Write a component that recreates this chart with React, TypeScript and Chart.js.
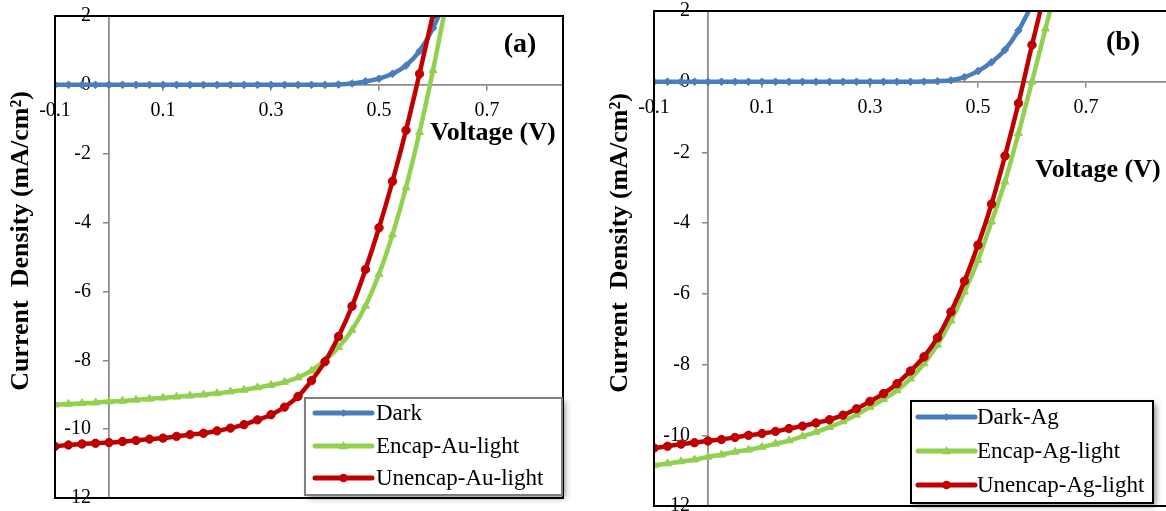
import React, { useEffect, useRef } from 'react';
import { Chart, registerables } from 'chart.js';

Chart.register(...registerables);

// ---------- data ----------
const voltage = [
  -0.1, -0.075, -0.05, -0.025, 0, 0.025, 0.05, 0.075, 0.1, 0.125, 0.15, 0.175,
  0.2, 0.225, 0.25, 0.275, 0.3, 0.325, 0.35, 0.375, 0.4, 0.425, 0.45, 0.475,
  0.5, 0.525, 0.55, 0.575, 0.6, 0.625, 0.65,
];

// Panel (a) – Au
const darkAu = [
  0, 0, 0, 0, 0, 0, 0, 0, 0, 0, 0, 0,
  0, 0, 0, 0, 0, 0, 0, 0, 0, 0.01, 0.04, 0.1,
  0.18, 0.32, 0.56, 0.98, 1.65, 2.6, 4.0,
];
const encapAu = [
  -9.29, -9.27, -9.25, -9.23, -9.2, -9.18, -9.15, -9.12, -9.09, -9.06, -9.03, -9.0,
  -8.96, -8.91, -8.86, -8.79, -8.72, -8.63, -8.5, -8.3, -8.0, -7.62, -7.12, -6.42,
  -5.5, -4.35, -2.98, -1.38, 0.42, 2.4, 4.2,
];
const unencapAu = [
  -10.5, -10.46, -10.43, -10.41, -10.39, -10.36, -10.33, -10.29, -10.26, -10.21, -10.16, -10.12,
  -10.05, -9.97, -9.87, -9.73, -9.58, -9.36, -9.05, -8.59, -8.04, -7.31, -6.43, -5.36,
  -4.15, -2.8, -1.32, 0.32, 2.05, 3.8, 5.6,
];

// Panel (b) – Ag
const darkAg = [
  0, 0, 0, 0, 0, 0, 0, 0, 0, 0, 0, 0,
  0, 0, 0, 0, 0, 0, 0, 0, 0.005, 0.015, 0.04, 0.13,
  0.3, 0.55, 0.9, 1.45, 2.2, 3.1, 4.2,
];
const encapAg = [
  -10.85, -10.8, -10.74, -10.69, -10.61, -10.55, -10.47, -10.41, -10.33, -10.24, -10.15, -10.03,
  -9.91, -9.77, -9.61, -9.42, -9.2, -8.98, -8.73, -8.4, -7.97, -7.44, -6.76, -5.94,
  -5.05, -3.96, -2.83, -1.46, 0.0, 1.5, 3.0,
];
const unencapAg = [
  -10.36, -10.31, -10.25, -10.21, -10.16, -10.12, -10.06, -10.0, -9.95, -9.89, -9.81, -9.74,
  -9.65, -9.56, -9.43, -9.25, -9.04, -8.82, -8.54, -8.18, -7.78, -7.24, -6.51, -5.64,
  -4.62, -3.46, -2.1, -0.61, 1.04, 2.6, 4.2,
];

const xTickValues = [-0.1, 0.1, 0.3, 0.5, 0.7];
const yMin = -12;
const yMax = 2;
const yTickStep = 2;
const legendAu = ['Dark', 'Encap-Au-light', 'Unencap-Au-light'];
const legendAg = ['Dark-Ag', 'Encap-Ag-light', 'Unencap-Ag-light'];
const panelLabels = ['(a)', '(b)'];
const xTitle = 'Voltage (V)';
const yTitle = 'Current  Density (mA/cm\u00B2)';

// ---------- styles ----------
const SERIF = '"Liberation Serif", "Times New Roman", serif';
const BLUE = '#4a7ebb';
const GREEN = '#92d050';
const RED = '#c00000';
const seriesStyles = [
  { color: BLUE, pointStyle: 'rectRot', radius: 3.8 },
  { color: GREEN, pointStyle: 'triangle', radius: 4.6 },
  { color: RED, pointStyle: 'circle', radius: 4.2 },
];
const PAD_V = 30;

type PanelCfg = {
  left: number;
  width: number;
  chartTop: number;
  chartBottom: number;
  padLeft: number;
  padRight: number;
  xMax: number;
  series: number[][];
  names: string[];
  label: string;
  labelPos: [number, number];
  xTitlePos: [number, number];
  yTitlePos: [number, number];
  legendBox: [number, number, number, number];
  legendRows: number[];
  legendLineX: [number, number];
  legendTextX: number;
  legendBorder: string;
};

const panels: PanelCfg[] = [
  {
    left: 0,
    width: 583,
    chartTop: 16,
    chartBottom: 498,
    padLeft: 55,
    padRight: 20,
    xMax: 0.8407,
    series: [darkAu, encapAu, unencapAu],
    names: legendAu,
    label: panelLabels[0],
    labelPos: [520, 45],
    xTitlePos: [493, 133],
    yTitlePos: [21, 241],
    legendBox: [305, 398, 562, 495],
    legendRows: [413, 446, 478],
    legendLineX: [315, 372],
    legendTextX: 376,
    legendBorder: '#7f7f7f',
  },
  {
    left: 583,
    width: 600,
    chartTop: 11,
    chartBottom: 506,
    padLeft: 71,
    padRight: 13,
    xMax: 0.8556,
    series: [darkAg, encapAg, unencapAg],
    names: legendAg,
    label: panelLabels[1],
    labelPos: [540, 43],
    xTitlePos: [515, 170],
    yTitlePos: [37, 243],
    legendBox: [328, 401, 570, 503],
    legendRows: [417, 451, 485],
    legendLineX: [335, 392],
    legendTextX: 394,
    legendBorder: '#000000',
  },
];

function drawMarker(ctx: CanvasRenderingContext2D, style: string, x: number, y: number, r: number) {
  ctx.beginPath();
  if (style === 'circle') {
    ctx.arc(x, y, r, 0, Math.PI * 2);
  } else if (style === 'triangle') {
    ctx.moveTo(x, y - r * 1.1);
    ctx.lineTo(x + r, y + r * 0.7);
    ctx.lineTo(x - r, y + r * 0.7);
    ctx.closePath();
  } else {
    ctx.moveTo(x, y - r);
    ctx.lineTo(x + r, y);
    ctx.lineTo(x, y + r);
    ctx.lineTo(x - r, y);
    ctx.closePath();
  }
  ctx.fill();
}

function makeDecorPlugin(cfg: PanelCfg, canvasTop: number) {
  return {
    id: 'decor',
    afterDatasetsDraw(chart: any) {
      const { ctx, chartArea } = chart;
      ctx.save();
      ctx.strokeStyle = '#000';
      ctx.lineWidth = 2;
      ctx.strokeRect(chartArea.left, chartArea.top, chartArea.right - chartArea.left, chartArea.bottom - chartArea.top);
      ctx.restore();
    },
    afterDraw(chart: any) {
      const ctx: CanvasRenderingContext2D = chart.ctx;
      ctx.save();
      // work in page coordinates
      ctx.translate(0, -canvasTop);
      ctx.fillStyle = '#000';
      ctx.textAlign = 'center';
      ctx.textBaseline = 'middle';
      ctx.font = `bold 28px ${SERIF}`;
      ctx.fillText(cfg.label, cfg.labelPos[0], cfg.labelPos[1]);
      ctx.font = `bold 26px ${SERIF}`;
      ctx.fillText(xTitle, cfg.xTitlePos[0], cfg.xTitlePos[1]);
      ctx.save();
      ctx.translate(cfg.yTitlePos[0], cfg.yTitlePos[1]);
      ctx.rotate(-Math.PI / 2);
      ctx.font = `bold 26px ${SERIF}`;
      ctx.fillText(yTitle, 0, 0);
      ctx.restore();
      // legend
      const [x0, y0, x1, y1] = cfg.legendBox;
      ctx.save();
      ctx.shadowColor = 'rgba(0,0,0,0.45)';
      ctx.shadowBlur = 6;
      ctx.shadowOffsetX = 3;
      ctx.shadowOffsetY = 3;
      ctx.fillStyle = '#fff';
      ctx.fillRect(x0, y0, x1 - x0, y1 - y0);
      ctx.restore();
      ctx.strokeStyle = cfg.legendBorder;
      ctx.lineWidth = 2;
      ctx.strokeRect(x0, y0, x1 - x0, y1 - y0);
      cfg.names.forEach((name, i) => {
        const st = seriesStyles[i];
        const y = cfg.legendRows[i];
        ctx.strokeStyle = st.color;
        ctx.fillStyle = st.color;
        ctx.lineWidth = 5;
        ctx.lineCap = 'round';
        ctx.beginPath();
        ctx.moveTo(cfg.legendLineX[0], y);
        ctx.lineTo(cfg.legendLineX[1], y);
        ctx.stroke();
        drawMarker(ctx, st.pointStyle, (cfg.legendLineX[0] + cfg.legendLineX[1]) / 2, y, st.radius);
        ctx.fillStyle = '#000';
        ctx.textAlign = 'left';
        ctx.textBaseline = 'middle';
        ctx.font = `23px ${SERIF}`;
        ctx.fillText(name, cfg.legendTextX, y + 1);
      });
      ctx.restore();
    },
  };
}

function Panel({ cfg }: { cfg: PanelCfg }) {
  const ref = useRef<HTMLCanvasElement | null>(null);
  const canvasTop = cfg.chartTop - PAD_V;
  const height = cfg.chartBottom - cfg.chartTop + 2 * PAD_V;
  useEffect(() => {
    if (!ref.current) return;
    const datasets = cfg.series.map((arr, i) => ({
      label: cfg.names[i],
      data: voltage.map((v, k) => ({ x: v, y: arr[k] })),
      borderColor: seriesStyles[i].color,
      backgroundColor: seriesStyles[i].color,
      pointBackgroundColor: seriesStyles[i].color,
      pointBorderColor: seriesStyles[i].color,
      pointStyle: seriesStyles[i].pointStyle,
      pointRadius: seriesStyles[i].radius,
      pointBorderWidth: 1,
      borderWidth: 4.5,
      cubicInterpolationMode: 'monotone',
      fill: false,
      order: 2 - i,
    }));
    const tickFont = { family: SERIF, size: 20 };
    // pixel offset of the y labels left of the x=0 axis (18 px at 540 px/V)
    const labelX = -18 / 540;
    const chart = new Chart(ref.current, {
      type: 'line',
      data: { datasets } as any,
      options: {
        animation: false,
        responsive: false,
        maintainAspectRatio: false,
        layout: { padding: { left: cfg.padLeft, right: cfg.padRight, top: PAD_V, bottom: PAD_V } },
        plugins: { legend: { display: false }, tooltip: { enabled: false } },
        scales: {
          x: {
            type: 'linear',
            min: -0.1,
            max: cfg.xMax,
            position: { y: 0 } as any,
            afterBuildTicks: (s: any) => {
              s.ticks = xTickValues.map((v) => ({ value: v }));
            },
            ticks: {
              font: tickFont,
              color: '#000',
              padding: 9,
              autoSkip: false,
              maxRotation: 0,
              callback: (v: any) => String(Math.round(Number(v) * 10) / 10),
            },
            grid: { drawOnChartArea: false, drawTicks: true, tickLength: 5, color: '#888', lineWidth: 1.5 },
            border: { display: true, color: '#8c8c8c', width: 1.8 },
          },
          y: {
            type: 'linear',
            min: yMin,
            max: yMax,
            position: { x: 0 } as any,
            ticks: { stepSize: yTickStep, display: false },
            grid: { drawOnChartArea: false, drawTicks: true, tickLength: 5, color: '#888', lineWidth: 1.5 },
            border: { display: true, color: '#8c8c8c', width: 1.8 },
          },
          yLabels: {
            type: 'linear',
            axis: 'y',
            min: yMin,
            max: yMax,
            position: { x: labelX } as any,
            ticks: {
              stepSize: yTickStep,
              font: tickFont,
              color: '#000',
              callback: (v: any) => String(v),
            },
            grid: { display: false },
            border: { display: false },
          },
        },
      } as any,
      plugins: [makeDecorPlugin(cfg, canvasTop)],
    });
    return () => chart.destroy();
  }, [cfg]);
  return (
    <canvas
      ref={ref}
      width={cfg.width}
      height={height}
      style={{ position: 'absolute', left: cfg.left, top: canvasTop, width: cfg.width, height }}
    />
  );
}

export default function App() {
  return (
    <div
      style={{
        position: 'absolute',
        left: 0,
        top: 0,
        width: 1166,
        height: 511,
        overflow: 'hidden',
        background: '#fff',
      }}
    >
      {panels.map((p, i) => (
        <Panel key={i} cfg={p} />
      ))}
    </div>
  );
}
